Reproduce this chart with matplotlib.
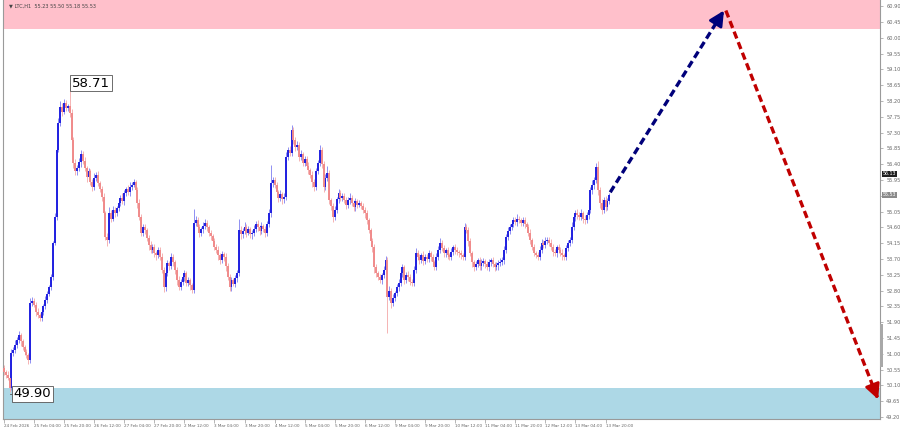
import numpy as np
import matplotlib
matplotlib.use("Agg")
import matplotlib.pyplot as plt
from matplotlib.patches import Rectangle

# H1 closes, one per bar (24 Feb 12:00 .. 13 Mar 22:00)
closes = [
    50.48, 50.40, 50.30, 50.03, 51.02, 51.10, 51.25, 51.39, 51.54, 51.35,
    51.20, 51.05, 50.95, 50.82, 52.45, 52.50, 52.40, 52.20, 52.10, 52.02,
    52.20, 52.35, 52.53, 52.70, 52.90, 53.19, 54.16, 54.90, 56.81, 57.58,
    58.03, 57.90, 58.15, 58.00, 58.05, 57.86, 57.09, 56.44, 56.20, 56.29,
    56.45, 56.70, 56.50, 56.30, 56.04, 56.20, 55.90, 55.75, 56.00, 56.10,
    55.87, 55.70, 55.47, 55.00, 54.33, 54.24, 55.01, 54.85, 55.10, 55.01,
    55.15, 55.30, 55.45, 55.35, 55.58, 55.70, 55.60, 55.75, 55.81, 55.90,
    55.67, 55.30, 54.90, 54.44, 54.60, 54.53, 54.30, 54.10, 53.96, 54.05,
    53.87, 53.80, 53.95, 53.76, 53.40, 52.90, 53.30, 53.59, 53.50, 53.76,
    53.60, 53.39, 53.10, 52.90, 53.05, 53.19, 53.30, 53.02, 53.10, 52.95,
    52.82, 54.73, 54.81, 54.60, 54.44, 54.55, 54.65, 54.73, 54.60, 54.44,
    54.35, 54.20, 54.04, 53.95, 53.80, 53.67, 53.85, 53.76, 53.50, 53.20,
    52.90, 53.10, 53.00, 53.15, 53.30, 54.53, 54.40, 54.50, 54.61, 54.45,
    54.55, 54.40, 54.44, 54.55, 54.70, 54.61, 54.50, 54.65, 54.55, 54.44,
    54.70, 55.01, 55.87, 55.95, 55.80, 55.60, 55.44, 55.55, 55.40, 55.47,
    56.61, 56.80, 56.72, 57.38, 57.10, 56.89, 56.95, 56.61, 56.70, 56.44,
    56.55, 56.35, 56.24, 56.10, 55.90, 55.75, 56.20, 56.44, 56.81, 56.40,
    55.75, 56.00, 56.15, 55.38, 55.20, 54.90, 55.10, 55.40, 55.58, 55.45,
    55.50, 55.38, 55.25, 55.38, 55.45, 55.30, 55.18, 55.35, 55.25, 55.30,
    55.20, 55.10, 55.00, 54.80, 54.53, 54.20, 54.04, 53.47, 53.30, 53.20,
    53.10, 53.25, 53.39, 53.67, 52.62, 52.80, 52.45, 52.60, 52.73, 52.90,
    53.02, 53.30, 53.47, 53.10, 53.25, 53.19, 53.05, 53.02, 53.40, 53.87,
    53.75, 53.67, 53.80, 53.65, 53.76, 53.70, 53.87, 53.75, 53.60, 53.47,
    53.76, 53.95, 54.16, 54.00, 53.87, 53.95, 53.80, 53.76, 53.90, 54.04,
    53.95, 53.90, 53.87, 53.80, 53.76, 54.61, 54.53, 54.20, 53.87, 53.60,
    53.47, 53.55, 53.67, 53.50, 53.59, 53.65, 53.55, 53.47, 53.60, 53.67,
    53.55, 53.47, 53.52, 53.59, 53.62, 53.67, 53.95, 54.33, 54.50, 54.61,
    54.70, 54.81, 54.75, 54.85, 54.81, 54.73, 54.80, 54.70, 54.61, 54.45,
    54.24, 54.05, 53.87, 53.80, 53.76, 53.95, 54.16, 54.10, 54.20, 54.24,
    54.16, 54.05, 53.90, 53.87, 54.04, 53.95, 53.87, 53.80, 53.76, 54.00,
    54.16, 54.24, 54.60, 54.90, 55.01, 54.95, 54.90, 55.00, 54.85, 54.81,
    54.95, 55.10, 55.67, 55.80, 55.95, 56.32, 55.67, 55.30, 55.10, 55.38,
    55.18, 55.35, 55.53,
]
first_open = 50.60

# wick lengths above / below the body, in cents
upper_wick = [
    8, 6, 10, 5, 12, 9, 14, 10, 12, 6,
    7, 5, 9, 6, 15, 12, 8, 6, 10, 7,
    9, 8, 12, 10, 7, 9, 6, 10, 12, 14,
    18, 12, 10, 8, 6, 66, 10, 8, 12, 9,
    14, 10, 8, 12, 6, 10, 7, 9, 14, 8,
    10, 6, 8, 12, 7, 10, 16, 9, 12, 8,
    7, 10, 8, 12, 9, 6, 10, 14, 8, 9,
    6, 8, 12, 7, 10, 9, 6, 8, 12, 7,
    9, 6, 10, 8, 12, 7, 14, 9, 6, 10,
    8, 6, 9, 12, 7, 10, 8, 6, 9, 7,
    6, 40, 12, 8, 10, 6, 9, 12, 7, 8,
    9, 6, 10, 8, 12, 7, 9, 6, 10, 8,
    7, 9, 6, 10, 8, 30, 12, 9, 14, 8,
    10, 6, 9, 12, 8, 10, 7, 9, 6, 10,
    8, 12, 50, 10, 8, 9, 6, 12, 7, 10,
    14, 10, 12, 14, 9, 8, 12, 7, 10, 6,
    9, 8, 10, 6, 12, 7, 10, 9, 14, 8,
    10, 12, 20, 8, 6, 9, 12, 7, 10, 8,
    9, 7, 10, 8, 12, 6, 9, 10, 7, 8,
    6, 9, 8, 10, 7, 6, 9, 8, 10, 7,
    8, 6, 10, 12, 9, 14, 8, 10, 7, 9,
    12, 8, 10, 6, 9, 12, 7, 8, 10, 14,
    8, 10, 6, 12, 9, 8, 10, 7, 9, 6,
    10, 12, 14, 8, 9, 6, 10, 8, 12, 7,
    9, 8, 6, 10, 7, 12, 9, 8, 10, 6,
    8, 10, 7, 9, 12, 8, 6, 10, 9, 7,
    8, 6, 9, 7, 10, 8, 12, 9, 10, 8,
    12, 9, 10, 14, 8, 7, 10, 9, 6, 8,
    10, 7, 8, 6, 9, 12, 10, 8, 14, 9,
    8, 10, 7, 9, 6, 10, 8, 12, 7, 9,
    8, 10, 14, 12, 9, 10, 8, 12, 7, 9,
    10, 12, 9, 14, 10, 12, 16, 8, 10, 9, 12, 8, 6,
]
lower_wick = [
    10, 8, 6, 13, 6, 9, 7, 10, 8, 12,
    9, 10, 8, 12, 7, 10, 8, 12, 9, 10,
    8, 10, 7, 9, 6, 8, 10, 7, 9, 6,
    10, 12, 8, 9, 7, 12, 14, 16, 10, 12,
    8, 12, 10, 9, 14, 7, 10, 12, 8, 9,
    10, 8, 12, 14, 10, 16, 9, 10, 8, 12,
    9, 7, 10, 8, 12, 9, 7, 10, 8, 6,
    12, 14, 10, 9, 8, 12, 10, 14, 9, 8,
    10, 12, 8, 10, 9, 14, 10, 8, 12, 9,
    10, 12, 14, 9, 8, 10, 12, 9, 8, 12,
    10, 8, 9, 12, 10, 8, 12, 9, 10, 8,
    12, 10, 9, 8, 12, 10, 9, 12, 14, 10,
    12, 10, 8, 9, 10, 8, 12, 10, 9, 12,
    8, 10, 12, 9, 8, 10, 12, 9, 8, 10,
    9, 8, 10, 12, 8, 10, 12, 9, 14, 10,
    8, 10, 9, 8, 12, 10, 8, 12, 9, 10,
    10, 8, 12, 9, 14, 10, 8, 9, 10, 12,
    14, 9, 8, 12, 10, 16, 9, 8, 10, 9,
    10, 8, 12, 9, 10, 8, 12, 10, 9, 8,
    9, 10, 12, 10, 9, 12, 14, 16, 12, 10,
    9, 12, 10, 8, 103, 10, 14, 9, 10, 8,
    10, 9, 12, 10, 8, 12, 9, 10, 8, 10,
    9, 10, 8, 12, 9, 10, 8, 12, 10, 9,
    8, 10, 9, 8, 12, 10, 9, 8, 10, 9,
    10, 8, 12, 9, 10, 8, 10, 12, 9, 12,
    10, 9, 8, 12, 10, 9, 12, 8, 10, 9,
    8, 10, 9, 12, 8, 9, 10, 8, 9, 10,
    9, 10, 8, 12, 9, 10, 8, 12, 10, 9,
    12, 10, 9, 8, 10, 9, 8, 10, 9, 8,
    10, 9, 12, 8, 10, 9, 8, 12, 10, 9,
    8, 10, 9, 8, 12, 10, 9, 8, 12, 10,
    9, 10, 8, 12, 10, 9, 14, 16, 12, 9, 10, 8, 9,
]

time_labels = ["24 Feb 2026", "25 Feb 04:00", "25 Feb 20:00", "26 Feb 12:00",
               "27 Feb 04:00", "27 Feb 20:00", "2 Mar 12:00", "3 Mar 04:00",
               "3 Mar 20:00", "4 Mar 12:00", "5 Mar 04:00", "5 Mar 20:00",
               "6 Mar 12:00", "9 Mar 04:00", "9 Mar 20:00", "10 Mar 12:00",
               "11 Mar 04:00", "11 Mar 20:00", "12 Mar 12:00", "13 Mar 04:00",
               "13 Mar 20:00"]
bars_per_label = 16

price_ticks = [49.20 + 0.45 * k for k in range(27)]
resistance_zone = (60.25, 61.2)
support_zone = (48.9, 50.03)
high_mark = (35, 58.71)
low_mark = (3, 49.90)
forecast_up = [(322.5, 55.60), (383.0, 60.78)]
forecast_down = [(384.0, 60.78), (465.0, 49.70)]
bid_price = 55.53
ask_price = 56.13
header = "\u25bc LTC,H1  55.23 55.50 55.18 55.53"

# ---- build candles
closes = np.array(closes)
opens = np.concatenate([[first_open], closes[:-1]])
highs = np.maximum(opens, closes) + np.array(upper_wick) / 100.0
lows = np.minimum(opens, closes) - np.array(lower_wick) / 100.0
idx = np.arange(len(closes))
bull = closes >= opens

YLO, YHI = 49.14, 61.08

fig = plt.figure(figsize=(9, 4.28), dpi=100)
ax = fig.add_axes([3 / 900, 9 / 428, 877 / 900, 419 / 428])

ax.set_xlim(-0.5, 466.0)
ax.set_ylim(YLO, YHI)

ax.axhspan(*resistance_zone, color="#ffc0cb", zorder=0, lw=0)
ax.axhspan(*support_zone, color="#add8e6", zorder=0, lw=0)

ax.vlines(idx[bull], lows[bull], highs[bull], color="#8f8ff2", lw=0.7, zorder=2)
ax.vlines(idx[~bull], lows[~bull], highs[~bull], color="#f5b3b3", lw=0.7, zorder=2)
ax.vlines(idx[bull], opens[bull], closes[bull], color="#1f1fe0", lw=1.4, zorder=3)
ax.vlines(idx[~bull], opens[~bull], closes[~bull], color="#f08a8a", lw=1.4, zorder=3)

# high / low marks
bx = dict(boxstyle="square,pad=0.12", fc="white", ec="#555555", lw=0.6)
hx, hy = high_mark
ax.plot([hx, hx + 1.0], [hy, hy], color="#555555", lw=0.6, zorder=4)
ax.text(hx + 1.2, hy, f"{hy:.2f}", fontsize=9.5, ha="left", va="center", bbox=bx, zorder=5)
lx, ly = low_mark
ax.plot([lx, lx + 1.5], [ly - 0.04, ly - 0.04], color="#555555", lw=0.6, zorder=4)
ax.text(lx + 2.2, ly - 0.04, f"{ly:.2f}", fontsize=9.5, ha="left", va="center", bbox=bx, zorder=5)


def dashed_arrow(pts, color):
    (x0, y0), (x1, y1) = pts
    ax.plot([x0, x1], [y0, y1], color=color, lw=2.4, dashes=(2.2, 1.2),
            solid_capstyle="butt", zorder=6)
    fx = x1 - (x1 - x0) * 0.04
    fy = y1 - (y1 - y0) * 0.04
    ax.annotate("", xy=(x1, y1), xytext=(fx, fy), zorder=7,
                arrowprops=dict(arrowstyle="-|>,head_length=0.9,head_width=0.45",
                                color=color, lw=2.0, shrinkA=0, shrinkB=0))


dashed_arrow(forecast_up, "#00007a")
dashed_arrow(forecast_down, "#c00000")

# axes styling
ax.spines["top"].set_visible(False)
for s in ["left", "right", "bottom"]:
    ax.spines[s].set_color("#9a9a9a")
    ax.spines[s].set_linewidth(0.8)

# the bid box sits on top of the nearest scale label, so that label stays blank
ax.yaxis.tick_right()
ax.set_yticks(price_ticks)
ax.set_yticklabels(["" if abs(p - bid_price) < 0.1 else f"{p:.2f}" for p in price_ticks])
ax.tick_params(axis="y", direction="out", length=2.5, width=0.5, colors="#9a9a9a",
               labelcolor="#666666", labelsize=3.6, pad=2)

ax.set_xticks([k * bars_per_label for k in range(len(time_labels))])
ax.set_xticklabels(time_labels)
ax.tick_params(axis="x", direction="out", length=3, width=0.5, colors="#9a9a9a",
               labelcolor="#666666", labelsize=3.0, pad=0.5)
for t in ax.get_xticklabels():
    t.set_ha("left")

# price boxes on the scale
for price, bg in [(ask_price, "#202020"), (bid_price, "#8a8a8a")]:
    ax.text(1.003, (price - YLO) / (YHI - YLO), f"{price:.2f}", transform=ax.transAxes,
            fontsize=3.4, color="white", ha="left", va="center", zorder=8, clip_on=False,
            bbox=dict(boxstyle="square,pad=0.12", fc=bg, ec="none"))

# scroll marker next to the scale
fig.patches.append(Rectangle((880 / 900, (428 - 367) / 428), 3 / 900, 43 / 428,
                             transform=fig.transFigure, fc="#a8a8a8", ec="none"))

ax.text(0.007, 0.993, header, transform=ax.transAxes, fontsize=3.6, color="#444444",
        ha="left", va="top", zorder=8)

fig.savefig("out.png", dpi=100)
